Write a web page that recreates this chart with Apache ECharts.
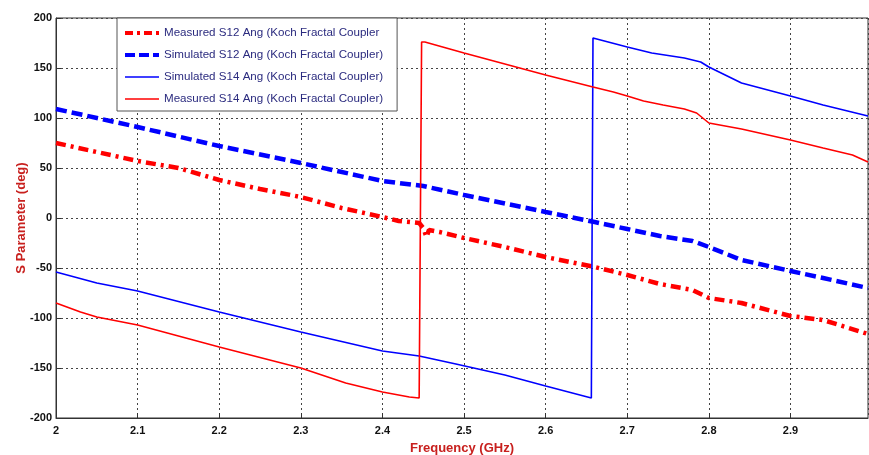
<!DOCTYPE html>
<html>
<head>
<meta charset="utf-8">
<script src="https://cdn.jsdelivr.net/npm/echarts@6/dist/echarts.min.js"></script>
<style>html,body{margin:0;padding:0;background:#fff;}#c{width:869px;height:455px;}</style>
</head>
<body>
<div id="c"></div>
<script>
// Measured S12 Ang (dash-dot red)
const mS12x = [2.00, 2.05, 2.10, 2.15, 2.20, 2.25, 2.30, 2.35, 2.40, 2.42, 2.445, 2.450, 2.454, 2.457, 2.47, 2.50, 2.55, 2.60, 2.66, 2.70, 2.74, 2.78, 2.80, 2.84, 2.90, 2.94, 2.995];
const mS12y = [75, 66, 57, 50, 38, 29, 21, 10, 1, -3, -5, -10, -19, -12, -14, -20, -29, -39, -49, -57, -66, -72, -80, -85, -98, -102, -116];
// Simulated S12 Ang (dashed blue)
const sS12x = [2.00, 2.10, 2.20, 2.30, 2.40, 2.45, 2.50, 2.60, 2.66, 2.70, 2.74, 2.78, 2.80, 2.84, 2.90, 2.94, 2.995];
const sS12y = [109, 91, 72, 55, 37, 32, 23, 6, -4, -11, -18, -23, -29, -42, -53, -60, -70];
// Simulated S14 Ang (solid blue)
const sS14x = [2.00, 2.05, 2.10, 2.20, 2.30, 2.40, 2.445, 2.49, 2.55, 2.60, 2.656, 2.658, 2.70, 2.73, 2.77, 2.79, 2.80, 2.84, 2.90, 2.94, 2.995];
const sS14y = [-54, -65, -73, -94, -114, -133, -138, -146, -157, -168, -180, 180, 171, 165, 160, 156, 151, 135, 122, 113, 102];
// Measured S14 Ang (solid red)
const mS14x = [2.00, 2.03, 2.05, 2.10, 2.20, 2.30, 2.355, 2.40, 2.433, 2.445, 2.448, 2.452, 2.50, 2.60, 2.658, 2.683, 2.70, 2.72, 2.744, 2.77, 2.785, 2.80, 2.84, 2.90, 2.94, 2.976, 2.995];
const mS14y = [-85, -94, -99, -107, -129, -150, -165, -174, -179, -180, 176, 176, 165, 143, 131, 126, 122, 117, 113, 109, 105, 95, 89, 78, 70, 63, 56];

const names = [
  'Measured S12 Ang (Koch Fractal Coupler',
  'Simulated S12 Ang (Koch Fractal Coupler)',
  'Simulated S14 Ang (Koch Fractal Coupler)',
  'Measured S14 Ang (Koch Fractal Coupler)'
];
const xMin = 2, xMax = 2.995, xStep = 0.1;
const yMin = -200, yMax = 200, yStep = 50;

function pairs(xs, ys) { return xs.map((x, i) => [x, ys[i]]); }

const styles = [
  {color: '#ff0000', width: 4.5, type: [10, 5, 3, 5]},
  {color: '#0000ff', width: 4.5, type: [11, 5]},
  {color: '#0000ff', width: 1.6, type: 'solid'},
  {color: '#ff0000', width: 1.6, type: 'solid'}
];
const legendStyles = [
  {color: '#ff0000', width: 4, type: [8, 4, 3, 4]},
  {color: '#0000ff', width: 4, type: [10, 4]},
  {color: '#0000ff', width: 1.6, type: 'solid'},
  {color: '#ff0000', width: 1.6, type: 'solid'}
];

const chart = echarts.init(document.getElementById('c'), null, {renderer: 'canvas'});
const font = 'Liberation Sans, Arial, sans-serif';
chart.setOption({
  animation: false,
  backgroundColor: '#ffffff',
  grid: {left: 56, top: 18, right: 1, bottom: 37, show: true, borderColor: '#333', borderWidth: 1,
    containLabel: false, outerBoundsMode: 'none'},
  legend: {
    orient: 'vertical',
    left: 117, top: 18,
    padding: [9, 14, 6, 6],
    itemGap: 10,
    itemWidth: 34, itemHeight: 14,
    backgroundColor: '#fff',
    borderColor: '#555', borderWidth: 1,
    itemStyle: {color: 'rgba(0,0,0,0)', borderWidth: 0, opacity: 0},
    textStyle: {color: '#2b2b7f', fontFamily: font, fontSize: 11.6},
    data: names.map((n, i) => ({name: n, lineStyle: legendStyles[i]}))
  },
  xAxis: {
    type: 'value', min: xMin, max: xMax, interval: xStep,
    name: 'Frequency (GHz)', nameLocation: 'middle', nameGap: 24, nameMoveOverlap: false,
    nameTextStyle: {color: '#c8201e', fontFamily: font, fontSize: 13, fontWeight: 'bold'},
    axisLine: {show: true, onZero: false, lineStyle: {color: '#333', width: 1}},
    axisTick: {show: true, inside: true, length: 5, lineStyle: {color: '#333'}},
    axisLabel: {color: '#111', fontFamily: font, fontSize: 11, fontWeight: 'bold', margin: 7, showMaxLabel: false,
      formatter: v => String(+v.toFixed(2))},
    splitLine: {show: true, lineStyle: {color: '#444', type: [2, 3], width: 1}}
  },
  yAxis: {
    type: 'value', min: yMin, max: yMax, interval: yStep,
    name: 'S Parameter (deg)', nameLocation: 'middle', nameGap: 28, nameRotate: 90, nameMoveOverlap: false,
    nameTextStyle: {color: '#c8201e', fontFamily: font, fontSize: 13, fontWeight: 'bold'},
    axisLine: {show: true, onZero: false, lineStyle: {color: '#333', width: 1}},
    axisTick: {show: true, inside: true, length: 5, lineStyle: {color: '#333'}},
    axisLabel: {color: '#111', fontFamily: font, fontSize: 11, fontWeight: 'bold', margin: 4},
    splitLine: {show: true, lineStyle: {color: '#444', type: [2, 3], width: 1}}
  },
  series: [
    {name: names[0], type: 'line', symbol: 'none', data: pairs(mS12x, mS12y), lineStyle: styles[0], itemStyle: {color: '#ff0000'}},
    {name: names[1], type: 'line', symbol: 'none', data: pairs(sS12x, sS12y), lineStyle: styles[1], itemStyle: {color: '#0000ff'}},
    {name: names[2], type: 'line', symbol: 'none', data: pairs(sS14x, sS14y), lineStyle: styles[2], itemStyle: {color: '#0000ff'}},
    {name: names[3], type: 'line', symbol: 'none', data: pairs(mS14x, mS14y), lineStyle: styles[3], itemStyle: {color: '#ff0000'}}
  ]
});
</script>
</body>
</html>
